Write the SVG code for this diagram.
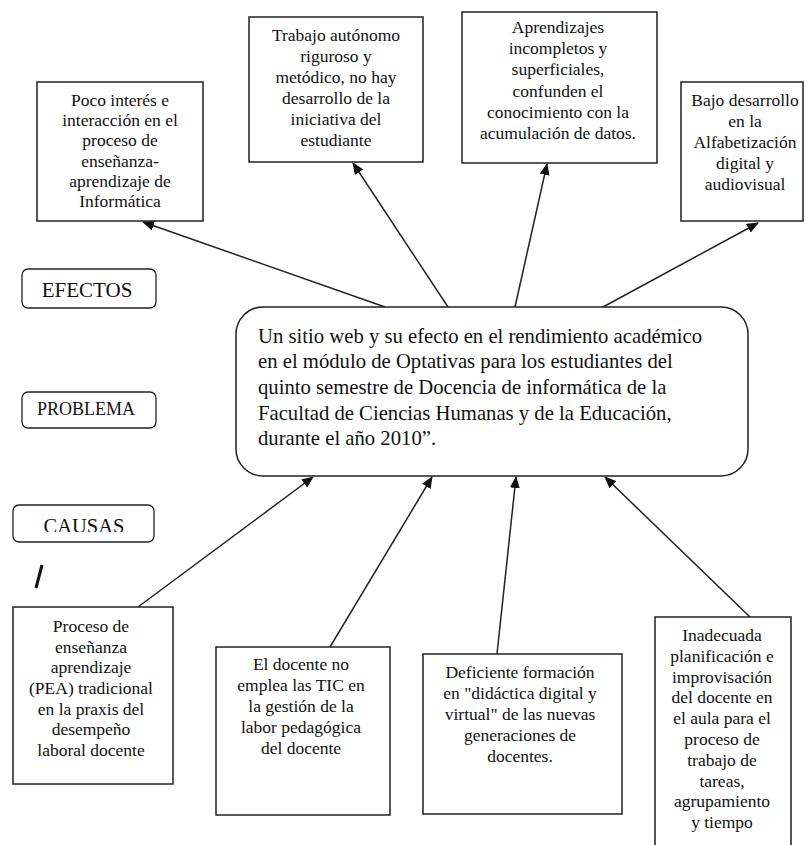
<svg xmlns="http://www.w3.org/2000/svg" width="808" height="845" viewBox="0 0 808 845">
<style>
.box{fill:#fff;stroke:#222;stroke-width:1.5}
.lbl{fill:#fff;stroke:#222;stroke-width:1.3}
.bt{font-family:"Liberation Serif","Times New Roman",serif;font-size:17.5px;fill:#111;text-anchor:middle}
.c{font-family:"Liberation Serif","Times New Roman",serif;font-size:20.7px;fill:#111}
.h{font-family:"Liberation Serif","Times New Roman",serif;fill:#111;text-anchor:middle}
.ln{stroke:#222;stroke-width:1.5;fill:none;marker-end:url(#ah)}
</style>
<defs>
<marker id="ah" markerUnits="userSpaceOnUse" markerWidth="12" markerHeight="10" refX="11" refY="5" orient="auto">
<path d="M0,0 L12,5 L0,10 Z" fill="#111"/>
</marker>
<clipPath id="cc"><rect x="13" y="505" width="141" height="27"/></clipPath>
</defs>
<rect width="808" height="845" fill="#fff"/>

<g id="connectors">
<line class="ln" x1="385" y1="307" x2="143" y2="222"/>
<line class="ln" x1="448" y1="307" x2="353" y2="163"/>
<line class="ln" x1="515" y1="307" x2="547" y2="164"/>
<line class="ln" x1="603" y1="307" x2="758" y2="223"/>
<line class="ln" x1="138" y1="607" x2="313" y2="477"/>
<line class="ln" x1="330" y1="647" x2="432" y2="477"/>
<line class="ln" x1="497" y1="654" x2="516" y2="477"/>
<line class="ln" x1="750" y1="617" x2="605" y2="477"/>
</g>

<g id="efecto1" class="bt">
<rect class="box" x="37" y="82" width="166" height="139"/>
<text x="120" y="106">Poco interés e</text>
<text x="120" y="126">interacción  en el</text>
<text x="120" y="146">proceso de</text>
<text x="120" y="167">enseñanza-</text>
<text x="120" y="187">aprendizaje de</text>
<text x="120" y="207">Informática</text>
</g>

<g id="efecto2" class="bt">
<rect class="box" x="249" y="17" width="174" height="145"/>
<text x="336" y="41">Trabajo autónomo</text>
<text x="336" y="62">riguroso y</text>
<text x="336" y="83">metódico, no hay</text>
<text x="336" y="104">desarrollo de la</text>
<text x="336" y="125">iniciativa del</text>
<text x="336" y="146">estudiante</text>
</g>

<g id="efecto3" class="bt">
<rect class="box" x="462" y="12" width="195" height="151"/>
<text x="558" y="33">Aprendizajes</text>
<text x="558" y="54">incompletos y</text>
<text x="558" y="75">superficiales,</text>
<text x="558" y="97">confunden el</text>
<text x="558" y="118">conocimiento con la</text>
<text x="558" y="139">acumulación de datos.</text>
</g>

<g id="efecto4" class="bt">
<rect class="box" x="681" y="82" width="122" height="139"/>
<text x="745" y="106">Bajo desarrollo</text>
<text x="745" y="127">en la</text>
<text x="745" y="148">Alfabetización</text>
<text x="745" y="169">digital y</text>
<text x="745" y="190">audiovisual</text>
</g>

<g id="lbl-efectos">
<rect class="lbl" x="22" y="269" width="134" height="39" rx="6"/>
<text class="h" x="87" y="297" font-size="21">EFECTOS</text>
</g>
<g id="lbl-problema">
<rect class="lbl" x="22" y="392" width="134" height="36" rx="6"/>
<text class="h" x="86" y="415" font-size="18">PROBLEMA</text>
</g>
<g id="lbl-causas">
<rect class="lbl" x="13" y="505" width="141" height="37" rx="6"/>
<text class="h" x="84" y="533" font-size="20.5" clip-path="url(#cc)">CAUSAS</text>
</g>
<line x1="42" y1="565" x2="36" y2="588" stroke="#111" stroke-width="3"/>

<g id="problema">
<rect class="box" x="236" y="307" width="512" height="169" rx="27"/>
<text class="c" x="258" y="343">Un sitio web y su efecto en el rendimiento académico</text>
<text class="c" x="258" y="368">en el módulo de Optativas para los estudiantes del</text>
<text class="c" x="258" y="394">quinto semestre de Docencia de informática de la</text>
<text class="c" x="258" y="420">Facultad de Ciencias Humanas y de la Educación,</text>
<text class="c" x="258" y="445">durante el año 2010”.</text>
</g>

<g id="causa1" class="bt">
<rect class="box" x="13" y="607" width="160" height="177"/>
<text x="91" y="632">Proceso de</text>
<text x="91" y="653">enseñanza</text>
<text x="91" y="673">aprendizaje</text>
<text x="91" y="694">(PEA) tradicional</text>
<text x="91" y="715">en la praxis del</text>
<text x="91" y="735">desempeño</text>
<text x="91" y="756">laboral docente</text>
</g>

<g id="causa2" class="bt">
<rect class="box" x="216" y="647" width="174" height="168"/>
<text x="301" y="670">El docente  no</text>
<text x="301" y="691">emplea las TIC en</text>
<text x="301" y="712">la gestión de la</text>
<text x="301" y="733">labor pedagógica</text>
<text x="301" y="754">del docente</text>
</g>

<g id="causa3" class="bt">
<rect class="box" x="423" y="654" width="199" height="160"/>
<text x="520" y="678">Deficiente formación</text>
<text x="520" y="699">en "didáctica digital y</text>
<text x="520" y="720">virtual" de las nuevas</text>
<text x="520" y="741">generaciones de</text>
<text x="520" y="762">docentes.</text>
</g>

<g id="causa4" class="bt">
<rect class="box" x="655" y="617" width="136" height="240"/>
<text x="722" y="641">Inadecuada</text>
<text x="722" y="662">planificación e</text>
<text x="722" y="683">improvisación</text>
<text x="722" y="703">del docente en</text>
<text x="722" y="724">el aula para el</text>
<text x="722" y="745">proceso de</text>
<text x="722" y="766">trabajo de</text>
<text x="722" y="787">tareas,</text>
<text x="722" y="807">agrupamiento</text>
<text x="722" y="828">y tiempo</text>
</g>
</svg>
